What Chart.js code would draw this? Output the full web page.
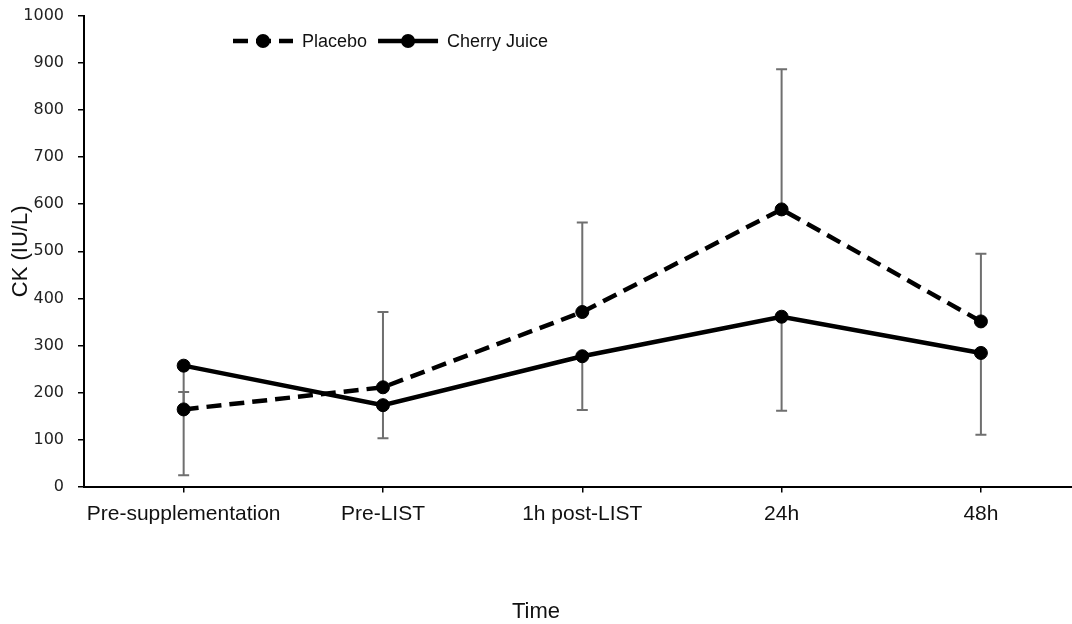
<!DOCTYPE html>
<html>
<head>
<meta charset="utf-8">
<script src="https://cdn.jsdelivr.net/npm/chart.js@4.4.1/dist/chart.umd.min.js"></script>
<style>
  html, body { margin: 0; padding: 0; background: #ffffff; }
  #wrap { width: 1072px; height: 624px; position: relative; }
</style>
</head>
<body>
<div id="wrap"><canvas id="c" width="1072" height="624"></canvas></div>
<script>
// ---- Data ----
const categories = ['Pre-supplementation', 'Pre-LIST', '1h post-LIST', '24h', '48h'];
const placebo = [164, 211, 371, 589, 351];
const cherryJuice = [257, 173, 277, 361, 284];
const placeboErrUp = [37, 160, 190, 298, 144];
const cherryErrDown = [233, 70, 114, 200, 174];
const yTickValues = [0, 100, 200, 300, 400, 500, 600, 700, 800, 900, 1000];
const seriesNames = ['Placebo', 'Cherry Juice'];
const xTitle = 'Time';
const yTitle = 'CK (IU/L)';

const toPoints = arr => arr.map((v, i) => ({ x: i, y: v }));

const errorBarPlugin = {
  id: 'errorBars',
  beforeDatasetsDraw(chart) {
    const { ctx, scales: { x, y } } = chart;
    ctx.save();
    ctx.strokeStyle = '#6f6f6f';
    ctx.lineWidth = 2;
    chart.data.datasets.forEach(ds => {
      const up = ds.errorPlus || [];
      const down = ds.errorMinus || [];
      ds.data.forEach((pt, i) => {
        const px = x.getPixelForValue(pt.x);
        const py = y.getPixelForValue(pt.y);
        const cap = 5.5;
        const draw = (endVal) => {
          const ey = y.getPixelForValue(endVal);
          ctx.beginPath();
          ctx.moveTo(px, py); ctx.lineTo(px, ey);
          ctx.moveTo(px - cap, ey); ctx.lineTo(px + cap, ey);
          ctx.stroke();
        };
        if (up[i] != null) draw(pt.y + up[i]);
        if (down[i] != null) draw(pt.y - down[i]);
      });
    });
    ctx.restore();
  }
};

const customLegend = {
  id: 'customLegend',
  afterDraw(chart) {
    const { ctx } = chart;
    ctx.save();
    ctx.font = '18px "Liberation Sans", Arial, sans-serif';
    ctx.textBaseline = 'middle';
    let xPos = 233;
    const yPos = 41;
    const sampleLen = 60;
    chart.data.datasets.forEach(ds => {
      ctx.strokeStyle = ds.borderColor;
      ctx.lineWidth = ds.borderWidth;
      ctx.setLineDash(ds.borderDash || []);
      ctx.lineCap = 'butt';
      ctx.beginPath();
      ctx.moveTo(xPos, yPos);
      ctx.lineTo(xPos + sampleLen, yPos);
      ctx.stroke();
      ctx.setLineDash([]);
      ctx.fillStyle = ds.pointBackgroundColor;
      ctx.beginPath();
      ctx.arc(xPos + sampleLen / 2, yPos, 7, 0, Math.PI * 2);
      ctx.fill();
      ctx.fillStyle = '#111';
      ctx.fillText(ds.label, xPos + sampleLen + 9, yPos + 1);
      xPos += sampleLen + 9 + ctx.measureText(ds.label).width + 11;
    });
    ctx.restore();
  }
};

new Chart(document.getElementById('c'), {
  type: 'line',
  data: {
    datasets: [
      {
        label: seriesNames[0],
        data: toPoints(placebo),
        errorPlus: placeboErrUp,
        borderColor: '#000',
        backgroundColor: '#000',
        borderWidth: 4.5,
        borderDash: [15, 8],
        pointRadius: 6.5,
        pointBorderWidth: 1,
        pointBackgroundColor: '#000',
        pointBorderColor: '#000',
        tension: 0
      },
      {
        label: seriesNames[1],
        data: toPoints(cherryJuice),
        errorMinus: cherryErrDown,
        borderColor: '#000',
        backgroundColor: '#000',
        borderWidth: 4.5,
        pointRadius: 6.5,
        pointBorderWidth: 1,
        pointBackgroundColor: '#000',
        pointBorderColor: '#000',
        tension: 0
      }
    ]
  },
  options: {
    responsive: false,
    animation: false,
    layout: { autoPadding: false, padding: { top: 16, left: 0, right: 0, bottom: 0 } },
    plugins: {
      legend: { display: false },
      tooltip: { enabled: false },
      title: {
        display: true,
        text: xTitle,
        position: 'bottom',
        color: '#111',
        font: { family: '"Liberation Sans", Arial, sans-serif', size: 22, weight: 'normal', lineHeight: 1.1 },
        padding: { top: 64, bottom: 0 }
      }
    },
    scales: {
      x: {
        type: 'linear',
        min: -0.5,
        max: 4.457,
        afterBuildTicks: scale => { scale.ticks = categories.map((_, i) => ({ value: i })); },
        afterFit: scale => { scale.paddingLeft = 0; scale.paddingRight = 0; },
        ticks: {
          callback: (v) => categories[v],
          color: '#111',
          padding: 9,
          maxRotation: 0,
          autoSkip: false,
          font: { family: '"Liberation Sans", Arial, sans-serif', size: 21 }
        },
        grid: { drawOnChartArea: false, tickLength: 6, color: '#000', lineWidth: 1.5 },
        border: { display: true, color: '#000', width: 2 }
      },
      y: {
        min: 0,
        max: 1000,
        afterBuildTicks: scale => { scale.ticks = yTickValues.map(v => ({ value: v })); },
        afterFit: scale => { scale.width = 84; scale.paddingTop = 0; scale.paddingBottom = 0; },
        ticks: {
          color: '#222',
          padding: 14,
          callback: v => String(v),
          font: { family: '"DejaVu Sans", sans-serif', size: 16 }
        },
        grid: { drawOnChartArea: false, tickLength: 6, color: '#000', lineWidth: 1.5 },
        border: { display: true, color: '#000', width: 2 },
        title: {
          display: true,
          text: yTitle,
          color: '#111',
          padding: { top: 8, bottom: 0 },
          font: { family: '"Liberation Sans", Arial, sans-serif', size: 22, weight: 'normal' }
        }
      }
    }
  },
  plugins: [errorBarPlugin, customLegend]
});
</script>
</body>
</html>
